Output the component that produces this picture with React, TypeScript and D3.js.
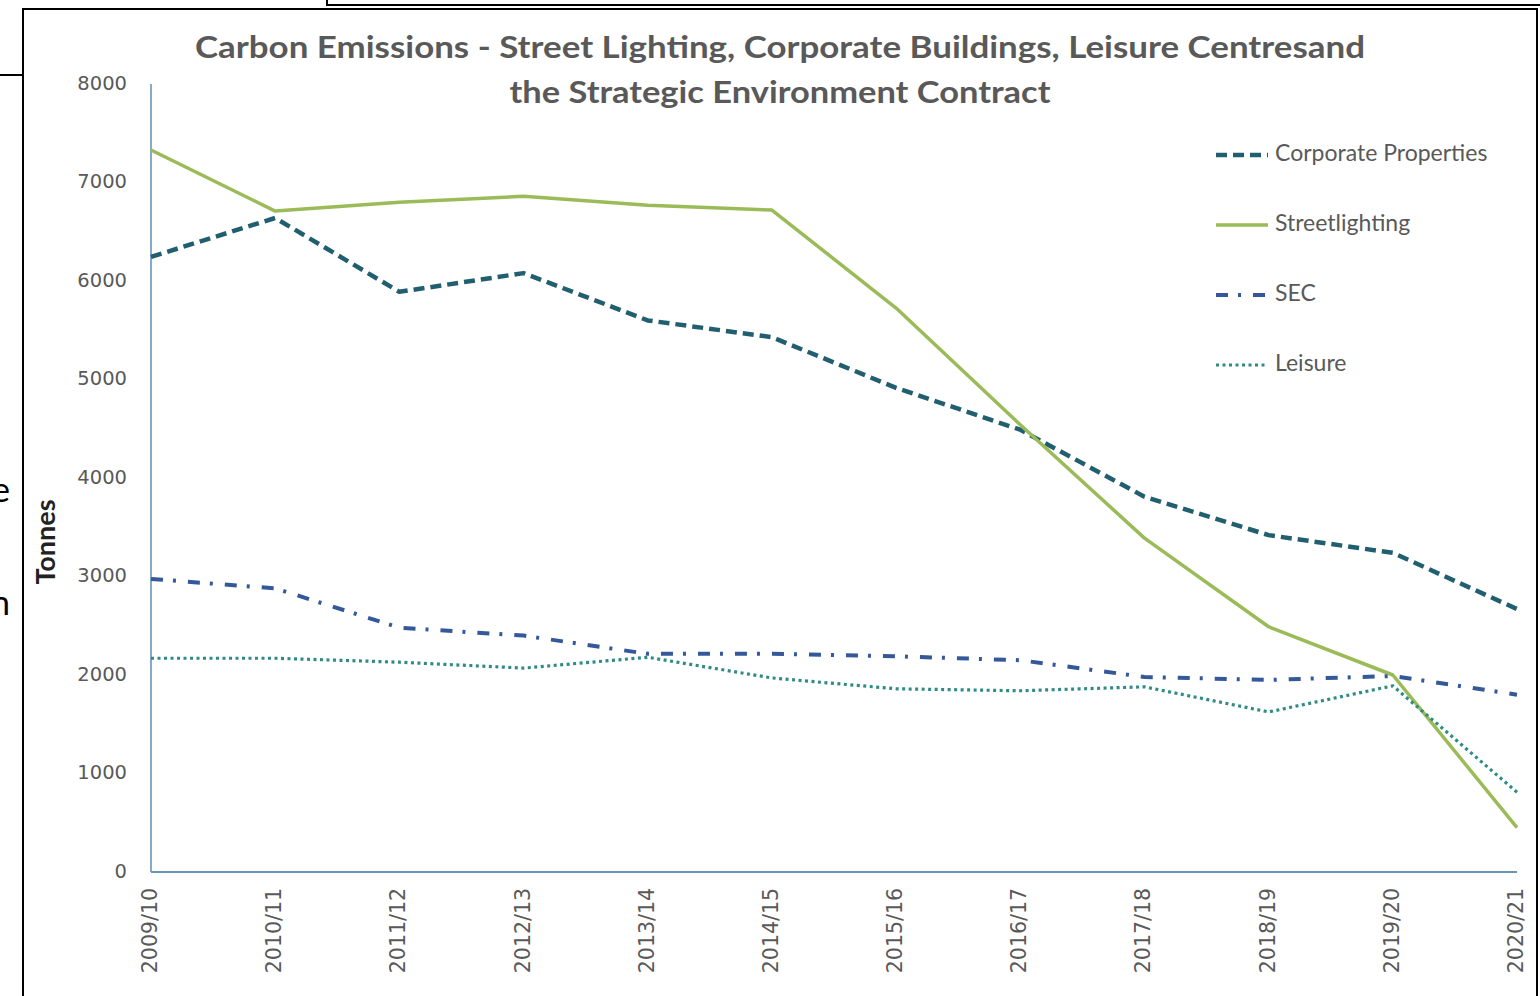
import React from "react";
import * as d3 from "d3";

// fiscal years on the x axis
const years = [
  "2009/10", "2010/11", "2011/12", "2012/13", "2013/14", "2014/15",
  "2015/16", "2016/17", "2017/18", "2018/19", "2019/20", "2020/21",
];

// tonnes
const corporate = [6245, 6640, 5890, 6080, 5600, 5430, 4915, 4490, 3810, 3420, 3240, 2670];
const streetlighting = [7330, 6710, 6800, 6860, 6770, 6720, 5725, 4540, 3390, 2490, 2000, 450];
const sec = [2975, 2880, 2480, 2400, 2215, 2215, 2190, 2150, 1980, 1950, 1990, 1800];
const leisure = [2170, 2170, 2130, 2070, 2180, 1970, 1860, 1840, 1880, 1625, 1890, 810];

const yTicks = [0, 1000, 2000, 3000, 4000, 5000, 6000, 7000, 8000];

const series = [
  { name: "Corporate Properties", values: corporate, color: "#215f70", width: 4.5, dash: "11 6" },
  { name: "Streetlighting", values: streetlighting, color: "#9bbb59", width: 3.5, dash: null },
  { name: "SEC", values: sec, color: "#34589a", width: 4, dash: "12 10 3 12" },
  { name: "Leisure", values: leisure, color: "#2e8c84", width: 3.2, dash: "3 3.5" },
];

const W = 1540;
const H = 996;
const left = 151, right = 1517, top = 84, bottom = 872;
const gray = "#595959";

export default function App() {
  const x = d3.scalePoint<string>().domain(years).range([left, right]);
  const y = d3.scaleLinear().domain([0, 8000]).range([bottom, top]);

  const line = d3.line<number>()
    .x((_, i) => x(years[i]) as number)
    .y(d => y(d));

  return (
    <svg width={W} height={H} style={{ position: "absolute", left: 0, top: 0, background: "#fff" }}>
      {/* page fragments around the chart frame */}
      <line x1={0} y1={75} x2={23} y2={75} stroke="#000" strokeWidth={2} />
      <polyline points="327,0 327,5 1540,5" fill="none" stroke="#000" strokeWidth={2} />
      <rect x={23} y={9} width={1514} height={H} fill="#fff" stroke="#000" strokeWidth={2} />
      <text x={10} y={502} textAnchor="end" fontFamily="Lato, sans-serif" fontSize={34} fill="#000">e</text>
      <text x={10} y={615} textAnchor="end" fontFamily="Lato, sans-serif" fontSize={34} fill="#000">n</text>

      {/* title */}
      <g fontFamily="Lato, sans-serif" fontWeight="bold" fontSize={31} fill={gray} textAnchor="middle">
        <text x={780} y={58} textLength={1170} lengthAdjust="spacingAndGlyphs">
          Carbon Emissions  - Street Lighting, Corporate Buildings, Leisure Centresand
        </text>
        <text x={780} y={103} textLength={541} lengthAdjust="spacingAndGlyphs">
          the Strategic Environment Contract
        </text>
      </g>

      {/* axes */}
      <line x1={left} y1={top} x2={left} y2={bottom} stroke="#5f8fb5" strokeWidth={1.5} />
      <line x1={left} y1={bottom} x2={right} y2={bottom} stroke="#6a93b8" strokeWidth={2} />

      <g fontFamily="DejaVu Sans, sans-serif" fontSize={19.5} fill={gray}>
        {yTicks.map(t => (
          <text key={t} x={127} y={y(t)} textAnchor="end" dominantBaseline="middle">{t}</text>
        ))}
        {years.map(yr => (
          <text key={yr} transform={`translate(${x(yr)},888) rotate(-90)`} textAnchor="end"
                dominantBaseline="middle" fontSize={20.5}>{yr}</text>
        ))}
      </g>

      <text transform="translate(48,542) rotate(-90)" textAnchor="middle" dominantBaseline="middle"
            fontFamily="Lato, sans-serif" fontWeight="bold" fontSize={27} fill="#222">Tonnes</text>

      {/* series */}
      {series.map(s => (
        <path key={s.name} d={line(s.values) || ""} fill="none" stroke={s.color} strokeWidth={s.width}
              strokeDasharray={s.dash || undefined} strokeLinejoin="round" />
      ))}

      {/* legend */}
      <g fontFamily="Lato, sans-serif" fontSize={23} fill={gray}>
        {series.map((s, i) => {
          const ly = 155 + i * 70;
          return (
            <g key={s.name}>
              <line x1={1216} x2={1268} y1={ly} y2={ly} stroke={s.color} strokeWidth={s.width}
                    strokeDasharray={s.dash || undefined} />
              <text x={1275} y={ly} dominantBaseline="middle">{s.name}</text>
            </g>
          );
        })}
      </g>
    </svg>
  );
}
